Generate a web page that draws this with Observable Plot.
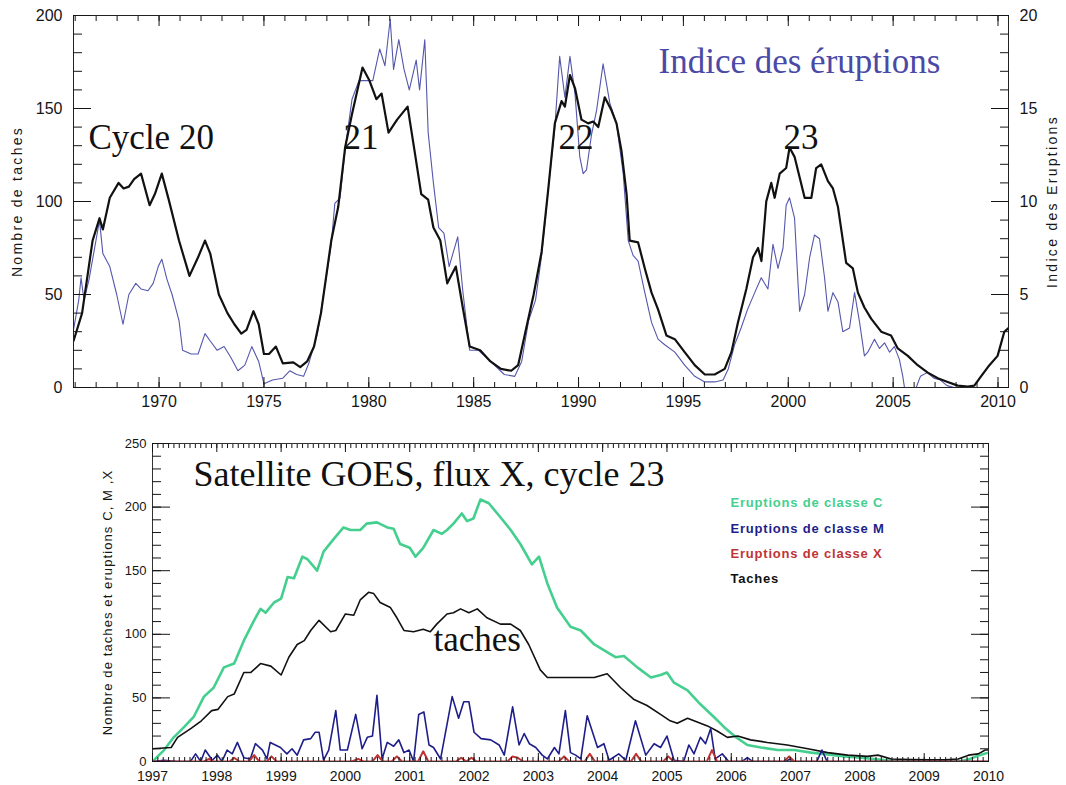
<!DOCTYPE html>
<html><head><meta charset="utf-8">
<script src="https://cdn.jsdelivr.net/npm/d3@7"></script>
<script src="https://cdn.jsdelivr.net/npm/@observablehq/plot@0.6"></script>
<style>
html,body{margin:0;padding:0;background:#fff;}
#wrap{position:relative;width:1066px;height:785px;overflow:hidden;background:#fff;}
#top,#bottom{position:absolute;left:0;}
#top{top:0}
#bottom{top:410px}
</style></head><body><div id="wrap"><div id="top"></div><div id="bottom"></div></div>
<script>
// ---------- Top panel data: smoothed sunspot number and flare index ----------
const sunspotTop = [[1965.92,25],[1966.33,40],[1966.83,79],[1967.16,91],[1967.32,85],[1967.65,102],[1968.07,110],[1968.31,107],[1968.56,108],[1968.81,112],[1969.14,115],[1969.55,98],[1969.8,104],[1970.13,115],[1970.46,101],[1970.95,79],[1971.45,60],[1971.86,70],[1972.19,79],[1972.44,72],[1972.85,50],[1973.26,40],[1973.59,34],[1973.92,29],[1974.17,31],[1974.5,41],[1974.75,34],[1975.0,18],[1975.24,18],[1975.57,22],[1975.9,13],[1976.4,13.5],[1976.73,11],[1977.06,14],[1977.39,22],[1977.72,40],[1978.21,79],[1978.54,97],[1978.87,129],[1979.2,147],[1979.7,172],[1980.03,165],[1980.36,155],[1980.61,158],[1980.94,137],[1981.35,144],[1981.85,151],[1982.17,128],[1982.5,104],[1982.83,101],[1983.08,86],[1983.41,79],[1983.74,56],[1984.15,65],[1984.48,43],[1984.81,22],[1985.31,20],[1985.8,14],[1986.3,10],[1986.79,9],[1987.12,12],[1987.45,29],[1987.86,50],[1988.24,73],[1988.56,107],[1988.87,142],[1989.19,154],[1989.35,151],[1989.59,168],[1989.83,161],[1990.14,144],[1990.46,142],[1990.7,143],[1990.94,140],[1991.25,156],[1991.57,149],[1991.81,142],[1992.05,127],[1992.29,104],[1992.44,79],[1992.84,78],[1993.16,64],[1993.48,51],[1993.79,42],[1994.19,28],[1994.59,26],[1995.06,19],[1995.54,12],[1996.02,7],[1996.49,7],[1996.97,10],[1997.29,19],[1997.6,35],[1998.0,53],[1998.32,70],[1998.56,75],[1998.72,68],[1998.95,100],[1999.19,110],[1999.35,102],[1999.59,115],[1999.9,118],[2000.06,129],[2000.3,124],[2000.54,113],[2000.78,102],[2001.1,102],[2001.33,118],[2001.57,120],[2001.89,111],[2002.13,107],[2002.37,97],[2002.76,67],[2003.08,64],[2003.32,51],[2003.63,43],[2003.95,37],[2004.43,30],[2004.9,28],[2005.22,21],[2005.7,17],[2006.17,12],[2006.65,8],[2007.13,5],[2007.6,3],[2008.08,1],[2008.56,0.5],[2008.87,1],[2009.19,6],[2009.59,12],[2009.98,17],[2010.3,30],[2010.5,32]];
const flareIndex = [[1965.92,3.1],[1966.17,4.7],[1966.28,5.9],[1966.42,4.7],[1966.66,5.8],[1966.99,7.9],[1967.16,9.0],[1967.32,7.2],[1967.65,6.5],[1967.98,5.0],[1968.28,3.4],[1968.56,5.0],[1968.89,5.6],[1969.14,5.3],[1969.47,5.2],[1969.72,5.6],[1969.96,6.5],[1970.13,6.9],[1970.38,5.8],[1970.62,5.0],[1970.95,3.6],[1971.12,2.0],[1971.53,1.8],[1971.86,1.8],[1972.19,2.9],[1972.44,2.5],[1972.77,2.0],[1973.1,2.2],[1973.43,1.6],[1973.76,0.9],[1974.09,1.2],[1974.42,2.2],[1974.75,1.4],[1975.0,0.2],[1975.41,0.4],[1975.9,0.5],[1976.23,0.9],[1976.56,0.7],[1976.89,0.6],[1977.14,1.3],[1977.55,2.9],[1977.97,5.9],[1978.21,7.7],[1978.38,9.9],[1978.63,10.2],[1978.87,12.8],[1979.2,15.5],[1979.53,16.5],[1979.86,16.5],[1980.19,16.5],[1980.52,18.2],[1980.77,17.3],[1981.02,19.8],[1981.18,17.1],[1981.43,18.7],[1981.68,17.1],[1981.93,16.0],[1982.26,17.6],[1982.42,16.0],[1982.67,18.7],[1982.83,13.7],[1983.08,11.0],[1983.33,8.6],[1983.58,8.3],[1983.83,6.5],[1984.24,8.1],[1984.48,5.2],[1984.81,2.0],[1985.23,2.0],[1985.8,1.4],[1986.46,0.7],[1986.96,0.6],[1987.29,1.4],[1987.62,3.6],[1987.95,4.7],[1988.24,7.1],[1988.56,10.7],[1988.87,14.0],[1989.1,17.8],[1989.35,15.6],[1989.59,17.8],[1989.83,15.8],[1990.06,12.4],[1990.22,11.5],[1990.38,11.7],[1990.62,13.6],[1990.86,14.9],[1991.17,17.4],[1991.49,15.3],[1991.81,14.2],[1992.13,11.5],[1992.37,7.9],[1992.6,7.1],[1992.84,6.8],[1993.16,5.1],[1993.48,3.5],[1993.79,2.6],[1994.11,2.3],[1994.59,1.9],[1995.06,1.2],[1995.54,0.6],[1996.02,0.3],[1996.49,0.3],[1996.89,0.4],[1997.14,1.0],[1997.44,2.3],[1997.75,3.2],[1998.06,4.2],[1998.4,5.1],[1998.71,5.9],[1999.03,5.3],[1999.27,7.7],[1999.51,6.4],[1999.75,7.5],[1999.9,9.8],[2000.06,10.2],[2000.3,9.1],[2000.46,5.7],[2000.54,4.1],[2000.78,5.0],[2001.02,7.0],[2001.25,8.2],[2001.49,8.0],[2001.73,5.9],[2001.89,4.1],[2002.13,5.1],[2002.37,4.6],[2002.6,3.0],[2002.92,3.2],[2003.16,5.1],[2003.4,3.5],[2003.63,1.7],[2003.79,1.9],[2004.11,2.6],[2004.35,2.1],[2004.59,2.4],[2004.83,1.9],[2005.06,2.2],[2005.3,1.5],[2005.46,0.6],[2005.54,0.0],[2006.1,0.0],[2006.3,0.6],[2006.62,0.8],[2006.94,0.5],[2007.25,0.4],[2007.57,0.1],[2007.9,0.0],[2008.5,0.0]];
const topXTicks = [1970, 1975, 1980, 1985, 1990, 1995, 2000, 2005, 2010];
const topLeftTicks = [0, 50, 100, 150, 200];
const topRightTicks = [0, 5, 10, 15, 20];

// ---------- Bottom panel data: GOES flare counts, cycle 23 ----------
const classC = [[1997.0,0],[1997.18,9],[1997.33,19],[1997.49,27],[1997.64,35],[1997.8,51],[1997.95,58],[1998.11,74],[1998.27,77],[1998.42,95],[1998.58,111],[1998.68,120],[1998.76,117],[1998.89,125],[1999.0,128],[1999.1,145],[1999.2,144],[1999.33,161],[1999.41,159],[1999.56,150],[1999.66,165],[1999.82,175],[1999.97,184],[2000.08,182],[2000.23,182],[2000.33,187],[2000.49,188],[2000.65,184],[2000.75,183],[2000.85,171],[2001.0,168],[2001.09,161],[2001.21,168],[2001.37,182],[2001.5,179],[2001.58,182],[2001.68,187],[2001.81,195],[2001.89,189],[2001.99,191],[2002.1,206],[2002.23,203],[2002.41,192],[2002.57,182],[2002.72,171],[2002.9,155],[2003.01,161],[2003.14,140],[2003.29,121],[2003.5,106],[2003.66,103],[2003.87,92],[2004.07,86],[2004.2,82],[2004.33,83],[2004.54,74],[2004.75,66],[2004.9,68],[2005.0,70],[2005.11,62],[2005.32,56],[2005.52,45],[2005.73,35],[2005.89,27],[2006.05,20],[2006.25,13],[2006.46,11],[2006.72,9],[2006.98,9],[2007.24,7],[2007.5,5.5],[2007.76,4],[2008.02,3],[2008.33,1.3],[2008.54,0.3],[2009.0,0],[2009.55,0],[2009.71,2],[2009.86,5],[2010.0,7]];
const taches = [[1997.0,10],[1997.29,11],[1997.39,19],[1997.6,26],[1997.76,32],[1997.92,40],[1998.02,41],[1998.17,51],[1998.27,53],[1998.42,70],[1998.53,70],[1998.68,77],[1998.84,75],[1999.0,68],[1999.12,82],[1999.25,92],[1999.36,95],[1999.46,103],[1999.59,111],[1999.77,102],[1999.85,103],[2000.0,116],[2000.13,115],[2000.23,127],[2000.36,133],[2000.44,132],[2000.54,125],[2000.7,121],[2000.8,113],[2000.91,103],[2001.06,102],[2001.21,104],[2001.32,102],[2001.42,108],[2001.58,116],[2001.68,117],[2001.79,120],[2001.92,117],[2002.05,120],[2002.2,113],[2002.41,108],[2002.57,108],[2002.72,103],[2002.85,92],[2003.03,72],[2003.14,66],[2003.4,66],[2003.66,66],[2003.87,66],[2004.07,69],[2004.28,58],[2004.48,49],[2004.69,44],[2004.9,37],[2005.05,32],[2005.16,30],[2005.32,34],[2005.47,31],[2005.63,28],[2005.78,24],[2005.94,19],[2006.1,20],[2006.3,17],[2006.56,15],[2006.87,13],[2007.19,10],[2007.5,7],[2007.81,5],[2008.12,4],[2008.28,5],[2008.49,2],[2008.8,1.5],[2009.06,1.3],[2009.32,1.3],[2009.53,2],[2009.69,5],[2009.84,6],[2009.95,9],[2010.0,9]];
const classM = [[1997.0,0],[1997.18,1],[1997.38,0],[1997.59,0],[1997.67,6],[1997.75,0],[1997.82,9],[1997.93,1],[1998.01,5],[1998.08,0],[1998.16,9],[1998.24,6],[1998.32,15],[1998.42,3],[1998.52,2],[1998.6,14],[1998.71,9],[1998.78,2],[1998.83,15],[1998.99,11],[1999.09,6],[1999.17,10],[1999.25,5],[1999.35,17],[1999.46,18],[1999.53,23],[1999.59,23],[1999.66,1],[1999.74,9],[1999.85,40],[1999.92,9],[2000.03,9],[2000.16,37],[2000.26,10],[2000.34,19],[2000.42,20],[2000.49,52],[2000.57,2],[2000.65,15],[2000.75,12],[2000.83,17],[2000.91,7],[2000.99,9],[2001.06,0],[2001.14,37],[2001.22,39],[2001.3,13],[2001.37,11],[2001.48,2],[2001.66,51],[2001.76,34],[2001.84,47],[2001.92,47],[2002.0,23],[2002.11,18],[2002.26,17],[2002.39,13],[2002.47,5],[2002.6,43],[2002.7,13],[2002.78,22],[2002.86,14],[2002.96,11],[2003.06,5],[2003.14,2],[2003.25,11],[2003.32,6],[2003.42,40],[2003.5,7],[2003.58,5],[2003.66,2],[2003.76,36],[2003.92,11],[2004.02,14],[2004.1,1],[2004.25,6],[2004.36,1],[2004.51,32],[2004.67,5],[2004.8,14],[2004.9,11],[2005.0,20],[2005.11,1],[2005.26,0],[2005.34,13],[2005.42,6],[2005.52,19],[2005.6,14],[2005.68,26],[2005.75,2],[2005.86,6],[2005.96,0],[2006.17,0],[2006.25,3],[2006.33,0],[2006.84,0],[2006.92,2],[2006.97,0],[2007.33,0],[2007.41,9],[2007.49,0],[2010.0,0]];
const classX = [[1997.0,0],[1997.8,0],[1997.88,2],[1997.95,0],[1998.2,0],[1998.27,3],[1998.35,0],[1998.5,0],[1998.58,5],[1998.66,0],[1998.78,0],[1998.85,4],[1998.93,0],[2000.1,0],[2000.2,2],[2000.28,0],[2000.42,0],[2000.5,5],[2000.58,0],[2000.72,0],[2000.8,4],[2000.88,0],[2001.13,0],[2001.21,8],[2001.29,0],[2001.72,0],[2001.8,3],[2001.88,0],[2001.96,3],[2002.04,0],[2002.52,0],[2002.6,4],[2002.68,3],[2002.76,0],[2003.32,0],[2003.4,4],[2003.48,0],[2003.72,0],[2003.8,6],[2003.88,0],[2004.44,0],[2004.52,6],[2004.6,0],[2004.94,0],[2005.02,4],[2005.1,0],[2005.62,0],[2005.7,9],[2005.78,0],[2006.82,0],[2006.9,4],[2006.98,0],[2010.0,0]];
const bottomXTicks = [1997, 1998, 1999, 2000, 2001, 2002, 2003, 2004, 2005, 2006, 2007, 2008, 2009, 2010];
const bottomYTicks = [0, 50, 100, 150, 200, 250];
const legendLabels = ["Eruptions de classe C", "Eruptions de classe M", "Eruptions de classe X", "Taches"];
const legendColors = ["#45cf8f", "#1e1e8a", "#bf3434", "#111111"];

const SANS = "'Liberation Sans', Arial, sans-serif";
const SERIF = "'Liberation Serif', 'Times New Roman', serif";
const fmt = d3.format("d");
const rows = a => a.map(([year, v]) => ({year, v}));

function spaceText(svg, content, spacing) {
  d3.select(svg).selectAll("text").filter(function () { return this.textContent === content; })
    .style("letter-spacing", spacing);
}

// ---------- Top panel ----------
const topPlot = Plot.plot({
  width: 1066, height: 410,
  marginLeft: 73, marginRight: 58, marginTop: 15, marginBottom: 23,
  style: {fontFamily: SANS, fontSize: "16px", background: "white", color: "#151515", overflow: "visible"},
  x: {domain: [1965.92, 2010.5], axis: null},
  y: {domain: [0, 200], axis: null},
  marks: [
    Plot.line(rows(flareIndex), {x: "year", y: d => d.v * 10, stroke: "#5557ab", strokeWidth: 1.1, clip: true}),
    Plot.line(rows(sunspotTop), {x: "year", y: "v", stroke: "#111", strokeWidth: 2.2, clip: true}),
    Plot.frame({stroke: "#222"}),
    Plot.axisY(d3.range(0, 201, 10), {anchor: "left", tickSize: -9, fill: "none"}),
    Plot.axisY(topLeftTicks, {anchor: "left", tickSize: -18, fill: "none"}),
    Plot.axisY(topLeftTicks, {anchor: "left", tickSize: 0, tickPadding: 11, label: null}),
    Plot.axisY(d3.range(0, 201, 10), {anchor: "right", tickSize: -9, fill: "none"}),
    Plot.axisY(topRightTicks.map(d => d * 10), {anchor: "right", tickSize: -18, fill: "none"}),
    Plot.axisY(topRightTicks.map(d => d * 10), {anchor: "right", tickSize: 0, tickPadding: 11, tickFormat: d => fmt(d / 10), label: null}),
    Plot.axisX(d3.range(1966, 2011), {anchor: "bottom", tickSize: -5, fill: "none"}),
    Plot.axisX(topXTicks, {anchor: "bottom", tickSize: -10, fill: "none"}),
    Plot.axisX(topXTicks, {anchor: "bottom", tickSize: 0, tickPadding: 8, tickFormat: fmt, label: null}),
    Plot.axisX(d3.range(1966, 2011), {anchor: "top", tickSize: -5, fill: "none"}),
    Plot.axisX(topXTicks, {anchor: "top", tickSize: -10, fill: "none"}),
    Plot.text(["Nombre de taches"], {frameAnchor: "left", dx: -56, rotate: -90, textAnchor: "middle", fontSize: 14, fill: "#151515"}),
    Plot.text(["Indice des Eruptions"], {frameAnchor: "right", dx: 44, rotate: -90, textAnchor: "middle", fontSize: 14, fill: "#151515"}),
    Plot.text(["Cycle 20"], {frameAnchor: "top-left", dx: 15, dy: 133, lineAnchor: "bottom", textAnchor: "start", fontFamily: SERIF, fontSize: 35, fill: "#111"}),
    Plot.text(["21"], {frameAnchor: "top-left", dx: 270, dy: 133, lineAnchor: "bottom", textAnchor: "start", fontFamily: SERIF, fontSize: 35, fill: "#111"}),
    Plot.text(["22"], {frameAnchor: "top-left", dx: 485, dy: 133, lineAnchor: "bottom", textAnchor: "start", fontFamily: SERIF, fontSize: 35, fill: "#111"}),
    Plot.text(["23"], {frameAnchor: "top-left", dx: 710, dy: 133, lineAnchor: "bottom", textAnchor: "start", fontFamily: SERIF, fontSize: 35, fill: "#111"}),
    Plot.text(["Indice des éruptions"], {frameAnchor: "top-left", dx: 585, dy: 57, lineAnchor: "bottom", textAnchor: "start", fontFamily: SERIF, fontSize: 35, fill: "#4a4aa6"})
  ]
});
spaceText(topPlot, "Nombre de taches", "2.3px");
spaceText(topPlot, "Indice des Eruptions", "2.3px");
document.getElementById("top").appendChild(topPlot);

// ---------- Bottom panel ----------
const months = d3.range(1997, 2010.001, 1 / 12);
const bottomPlot = Plot.plot({
  width: 1066, height: 375,
  marginLeft: 152, marginRight: 78, marginTop: 33, marginBottom: 24,
  style: {fontFamily: SANS, fontSize: "14px", background: "white", color: "#151515", overflow: "visible"},
  x: {domain: [1997, 2010], axis: null},
  y: {domain: [0, 250], axis: null},
  marks: [
    Plot.line(rows(classC), {x: "year", y: "v", stroke: legendColors[0], strokeWidth: 2.6, clip: true}),
    Plot.line(rows(taches), {x: "year", y: "v", stroke: legendColors[3], strokeWidth: 1.6, clip: true}),
    Plot.line(rows(classM), {x: "year", y: "v", stroke: legendColors[1], strokeWidth: 1.6, clip: true}),
    Plot.line(rows(classX), {x: "year", y: "v", stroke: legendColors[2], strokeWidth: 2, clip: true}),
    Plot.frame({stroke: "#333"}),
    Plot.axisY(d3.range(0, 251, 10), {anchor: "left", tickSize: -9, fill: "none"}),
    Plot.axisY(bottomYTicks, {anchor: "left", tickSize: -18, fill: "none"}),
    Plot.axisY(bottomYTicks, {anchor: "left", tickSize: 0, tickPadding: 6, fontSize: 13, label: null}),
    Plot.axisY(d3.range(0, 251, 10), {anchor: "right", tickSize: -9, fill: "none"}),
    Plot.axisY(bottomYTicks, {anchor: "right", tickSize: -18, fill: "none"}),
    Plot.axisX(months, {anchor: "bottom", tickSize: -4, fill: "none"}),
    Plot.axisX(bottomXTicks, {anchor: "bottom", tickSize: -8, fill: "none"}),
    Plot.axisX(bottomXTicks, {anchor: "bottom", tickSize: 0, tickPadding: 10, tickFormat: fmt, label: null}),
    Plot.axisX(months, {anchor: "top", tickSize: -4, fill: "none"}),
    Plot.axisX(bottomXTicks, {anchor: "top", tickSize: -8, fill: "none"}),
    Plot.text(["Nombre de taches et eruptions C, M ,X"], {frameAnchor: "left", dx: -45, rotate: -90, textAnchor: "middle", fontSize: 13, fill: "#151515"}),
    Plot.text(["Satellite GOES, flux X, cycle 23"], {frameAnchor: "top-left", dx: 41, dy: 42, lineAnchor: "bottom", textAnchor: "start", fontFamily: SERIF, fontSize: 36, fill: "#111"}),
    Plot.text(["taches"], {frameAnchor: "top-left", dx: 281, dy: 207, lineAnchor: "bottom", textAnchor: "start", fontFamily: SERIF, fontSize: 35, fill: "#111"}),
    Plot.text([legendLabels[0]], {frameAnchor: "top-left", dx: 578, dy: 63, lineAnchor: "bottom", textAnchor: "start", fontSize: 13, fontWeight: "bold", fill: legendColors[0]}),
    Plot.text([legendLabels[1]], {frameAnchor: "top-left", dx: 578, dy: 89, lineAnchor: "bottom", textAnchor: "start", fontSize: 13, fontWeight: "bold", fill: legendColors[1]}),
    Plot.text([legendLabels[2]], {frameAnchor: "top-left", dx: 578, dy: 114, lineAnchor: "bottom", textAnchor: "start", fontSize: 13, fontWeight: "bold", fill: legendColors[2]}),
    Plot.text([legendLabels[3]], {frameAnchor: "top-left", dx: 578, dy: 139, lineAnchor: "bottom", textAnchor: "start", fontSize: 13, fontWeight: "bold", fill: legendColors[3]})
  ]
});
spaceText(bottomPlot, "Nombre de taches et eruptions C, M ,X", "1.1px");
legendLabels.forEach(l => spaceText(bottomPlot, l, "0.8px"));
document.getElementById("bottom").appendChild(bottomPlot);
</script></body></html>
